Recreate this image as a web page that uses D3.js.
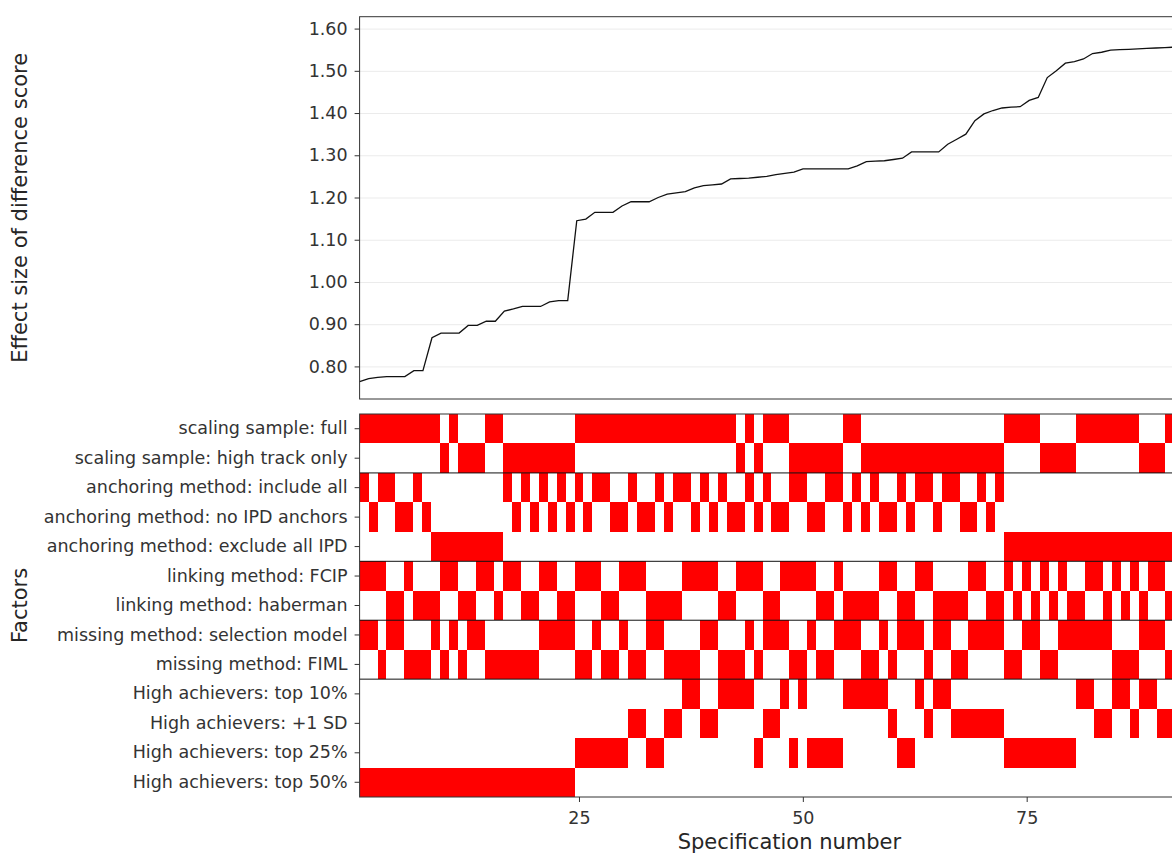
<!DOCTYPE html>
<html lang="en">
<head>
<meta charset="UTF-8">
<title>specification curve</title>
<script src="https://d3js.org/d3.v7.min.js"></script>
<style>
    body {
        margin: 0;
        background: #fff;
        overflow: hidden;
    }

    svg {
        display: block;
        font-family: "DejaVu Sans", Verdana, sans-serif;
    }

    .axis text {
        fill: #333;
        font-family: "DejaVu Sans", Verdana, sans-serif;
        font-size: 17.5px;
    }

    .axis line {
        stroke: #333;
    }

    .axis .domain {
        display: none;
    }

    .grid line {
        stroke: #ebebeb;
    }

    .grid .domain,
    .grid text {
        display: none;
    }

    .title {
        fill: #262626;
        font-size: 21px;
    }
</style>
</head>
<body>
<div id="chart"></div>
<script>
    // effect size per specification, sorted (92-96 are cut off in the picture)
    let effectSize = [
        0.764, 0.771, 0.774, 0.776, 0.776, 0.776, 0.790, 0.790, 0.868, 0.879,
        0.879, 0.879, 0.897, 0.897, 0.907, 0.907, 0.931, 0.936, 0.942, 0.942,
        0.942, 0.953, 0.956, 0.956, 1.145, 1.149, 1.165, 1.165, 1.165, 1.180,
        1.190, 1.190, 1.190, 1.200, 1.208, 1.211, 1.214, 1.223, 1.228, 1.230,
        1.232, 1.244, 1.245, 1.246, 1.248, 1.250, 1.254, 1.257, 1.260, 1.268,
        1.268, 1.268, 1.268, 1.268, 1.268, 1.275, 1.285, 1.286, 1.287, 1.290,
        1.293, 1.308, 1.308, 1.308, 1.308, 1.326, 1.338, 1.350, 1.382, 1.398,
        1.406, 1.412, 1.414, 1.415, 1.430, 1.437, 1.484, 1.500, 1.518, 1.522,
        1.528, 1.541, 1.544, 1.549, 1.550, 1.551, 1.552, 1.553, 1.554, 1.555,
        1.556, 1.560, 1.566, 1.572, 1.580, 1.587
    ];

    // one code per specification, in the same order as effectSize
    // scaling sample: F = full, H = high track only
    let scaling = ("FFFFFFFFFHFHHHFFHHHHHHHH" + "FFFFFFFFFFFFFFFFFFHFHFFF" +
        "HHHHHHFFHHHHHHHHHHHHHHHH" + "FFFFHHHHFFFFFFFHHHFHHHHH").split("");
    // anchoring method: A = include all, N = no IPD anchors, E = exclude all IPD
    let anchoring = ("ANAANNANEEEEEEEEANANANAN" + "ANAANNANNANAANANANNANANN" +
        "AANNAANANANNANAANAANNANA" + "EEEEEEEEEEEEEEEEEEEEEEEE").split("");
    // linking method: C = FCIP, H = haberman
    let linking = ("CCCHHCHHHCCHHCCHCCHHCCHH" + "CCCHHCCCHHHHCCCCHHCCCHHC" +
        "CCCHHCHHHHCCHHCCHHHHCCHH" + "CHCHCHCHHCCHCHCHCCHCHHHC").split("");
    // missing method: S = selection model, M = FIML
    let missing = ("SSMSSMMMSMSMSSMMMMMMSSSS" + "MMSMMSMMSSMMMMSSMMMSMSSS" +
        "MMSMMSSSMMSMSSSMSSMMSSSS" + "MMSSMMSSSSSSMMMSSSMMMSMM").split("");
    // high achievers: 1 = top 10%, 2 = +1 SD, 3 = top 25%, 4 = top 50%
    let achievers = ("444444444444444444444444" + "333333223322112211113221" +
        "313333111112331211222222" + "333333331122112112212212").split("");

    let rowLabels = [
        "scaling sample: full", "scaling sample: high track only",
        "anchoring method: include all", "anchoring method: no IPD anchors", "anchoring method: exclude all IPD",
        "linking method: FCIP", "linking method: haberman",
        "missing method: selection model", "missing method: FIML",
        "High achievers: top 10%", "High achievers: +1 SD", "High achievers: top 25%", "High achievers: top 50%"
    ];
    let groupSizes = [2, 3, 2, 2, 4];

    let codeRow = {
        scaling: { F: 0, H: 1 },
        anchoring: { A: 2, N: 3, E: 4 },
        linking: { C: 5, H: 6 },
        missing: { S: 7, M: 8 },
        achievers: { "1": 9, "2": 10, "3": 11, "4": 12 }
    };

    let yTicks = [0.8, 0.9, 1.0, 1.1, 1.2, 1.3, 1.4, 1.5, 1.6];
    let xTicks = [25, 50, 75];

    function draw() {
        let width = 1172, height = 855;
        let left = 359.6, right = 1219.2; // panel runs past the window edge
        let topPanel = [16.7, 399];
        let tilePanel = [414, 797];

        let n = effectSize.length;
        let specs = d3.range(1, n + 1);

        let svg = d3.select("#chart").append("svg")
            .attr("id", "svg")
            .attr("width", width)
            .attr("height", height);

        // ---- curve panel
        let xLine = d3.scaleLinear().domain([1, n]).range([left, right]);
        let ext = d3.extent(effectSize);
        let pad = (ext[1] - ext[0]) * 0.05;
        let y = d3.scaleLinear().domain([ext[0] - pad, ext[1] + pad]).range([topPanel[1], topPanel[0]]);

        svg.append("g")
            .attr("class", "grid")
            .attr("transform", "translate(" + left + ",0)")
            .call(d3.axisLeft(y).tickValues(yTicks).tickSize(-(right - left)));

        svg.append("path")
            .datum(specs)
            .attr("fill", "none")
            .attr("stroke", "#111")
            .attr("stroke-width", 1.3)
            .attr("d", d3.line().x(d => xLine(d)).y(d => y(effectSize[d - 1])));

        svg.append("rect")
            .attr("x", left).attr("y", topPanel[0])
            .attr("width", right - left).attr("height", topPanel[1] - topPanel[0])
            .attr("fill", "none").attr("stroke", "#333");

        svg.append("g")
            .attr("class", "axis")
            .attr("transform", "translate(" + left + ",0)")
            .call(d3.axisLeft(y).tickValues(yTicks).tickFormat(d3.format(".2f")).tickSize(5).tickPadding(7));

        // ---- factor tiles
        let xTile = d3.scaleLinear().domain([0.5, n + 0.5]).range([left, right]);
        let rows = d3.scaleBand().domain(rowLabels).range(tilePanel);

        let tiles = [];
        specs.forEach(function (s) {
            let i = s - 1;
            tiles.push({ spec: s, row: codeRow.scaling[scaling[i]] });
            tiles.push({ spec: s, row: codeRow.anchoring[anchoring[i]] });
            tiles.push({ spec: s, row: codeRow.linking[linking[i]] });
            tiles.push({ spec: s, row: codeRow.missing[missing[i]] });
            tiles.push({ spec: s, row: codeRow.achievers[achievers[i]] });
        });

        svg.append("g")
            .selectAll("rect")
            .data(tiles)
            .enter().append("rect")
            .attr("x", d => xTile(d.spec - 0.5))
            .attr("width", d => xTile(d.spec + 0.5) - xTile(d.spec - 0.5))
            .attr("y", d => rows(rowLabels[d.row]))
            .attr("height", rows.bandwidth())
            .attr("fill", "#ff0000")
            .attr("shape-rendering", "crispEdges");

        // group separators
        let cum = d3.cumsum(groupSizes).slice(0, -1);
        svg.append("g")
            .selectAll("line")
            .data(cum)
            .enter().append("line")
            .attr("x1", left).attr("x2", right)
            .attr("y1", d => rows(rowLabels[d]))
            .attr("y2", d => rows(rowLabels[d]))
            .attr("stroke", "#111");

        svg.append("rect")
            .attr("x", left).attr("y", tilePanel[0])
            .attr("width", right - left).attr("height", tilePanel[1] - tilePanel[0])
            .attr("fill", "none").attr("stroke", "#333");

        svg.append("g")
            .attr("class", "axis")
            .attr("transform", "translate(" + left + ",0)")
            .call(d3.axisLeft(rows).tickSize(5).tickPadding(7));

        svg.append("g")
            .attr("class", "axis")
            .attr("transform", "translate(0," + tilePanel[1] + ")")
            .call(d3.axisBottom(xTile).tickValues(xTicks).tickSize(5).tickPadding(10));

        // ---- titles
        svg.append("text")
            .attr("class", "title")
            .attr("text-anchor", "middle")
            .attr("transform", "translate(27," + (topPanel[0] + topPanel[1]) / 2 + ") rotate(-90)")
            .text("Effect size of difference score");

        svg.append("text")
            .attr("class", "title")
            .attr("text-anchor", "middle")
            .attr("transform", "translate(27," + (tilePanel[0] + tilePanel[1]) / 2 + ") rotate(-90)")
            .text("Factors");

        svg.append("text")
            .attr("class", "title")
            .attr("text-anchor", "middle")
            .attr("x", (left + right) / 2)
            .attr("y", 849)
            .text("Specification number");
    }

    draw();
</script>
</body>
</html>
